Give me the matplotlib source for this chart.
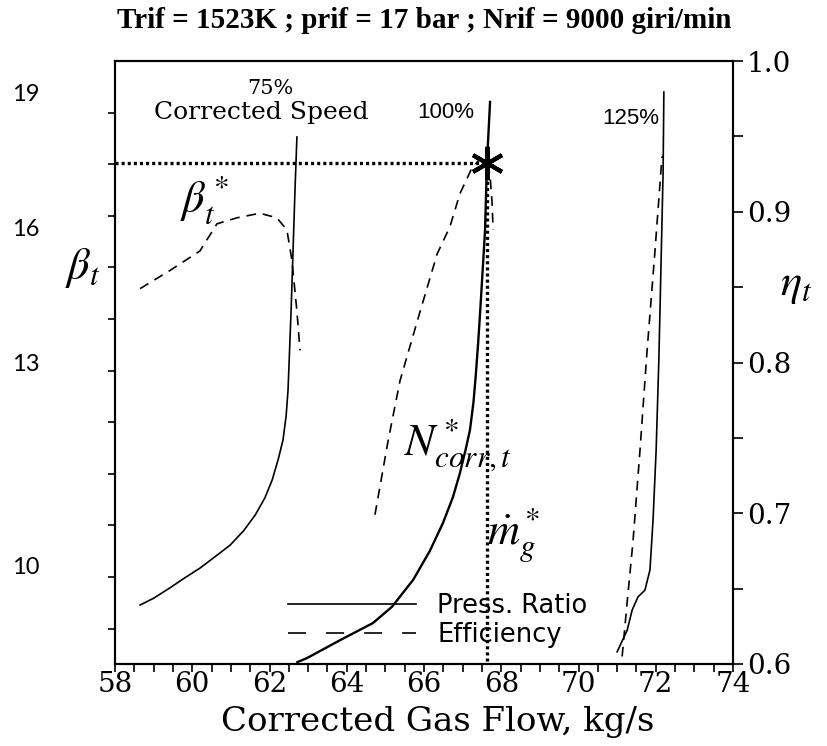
import matplotlib
matplotlib.use("Agg")
import matplotlib.pyplot as plt
import numpy as np
from matplotlib.lines import Line2D
from matplotlib.ticker import FixedLocator, MultipleLocator, NullFormatter

plt.rcParams['mathtext.fontset'] = 'stix'
plt.rcParams['lines.scale_dashes'] = False

# ---------------- data ----------------
# 75 % corrected speed
flow_75_pr = [58.65, 59.00, 59.42, 59.80, 60.20, 60.60, 60.98, 61.33, 61.63, 61.88, 62.07,
              62.23, 62.35, 62.43, 62.48, 62.53, 62.56, 62.61, 62.66, 62.71]
beta_75 = [7.60, 7.75, 7.98, 8.20, 8.42, 8.68, 8.93, 9.25, 9.60, 9.98, 10.38,
           10.85, 11.27, 11.80, 12.38, 13.49, 14.16, 15.49, 16.82, 18.00]
flow_75_eff = [58.65, 59.42, 60.20, 60.64, 61.16, 61.75, 62.19, 62.45, 62.58, 62.71, 62.79]
eta_75 = [0.849, 0.861, 0.874, 0.892, 0.896, 0.899, 0.896, 0.888, 0.868, 0.834, 0.808]

# 100 % corrected speed
flow_100_pr = [62.72, 62.97, 63.83, 64.68, 65.17, 65.72, 66.15, 66.49, 66.75, 66.93, 67.09,
               67.19, 67.28, 67.34, 67.40, 67.46, 67.53, 67.58, 67.63, 67.71]
beta_100 = [6.33, 6.42, 6.82, 7.20, 7.56, 8.16, 8.80, 9.42, 10.00, 10.53, 11.10,
            11.49, 12.10, 12.70, 13.40, 14.20, 15.20, 15.93, 17.42, 18.78]
flow_100_eff = [64.73, 65.07, 65.38, 65.64, 65.90, 66.34, 66.67, 66.93, 67.24, 67.45, 67.63, 67.71, 67.76, 67.79]
eta_100 = [0.699, 0.748, 0.788, 0.811, 0.834, 0.872, 0.890, 0.912, 0.929, 0.935, 0.934, 0.924, 0.907, 0.888]

# 125 % corrected speed
flow_125_pr = [71.00, 71.26, 71.39, 71.54, 71.72, 71.85, 71.93, 72.01, 72.08, 72.19, 72.21]
beta_125 = [6.56, 7.04, 7.49, 7.78, 7.93, 8.38, 9.49, 11.04, 13.04, 17.20, 19.00]
flow_125_eff = [71.13, 71.26, 71.41, 71.59, 71.77, 71.98, 72.16, 72.19]
eta_125 = [0.605, 0.641, 0.681, 0.741, 0.806, 0.874, 0.936, 0.937]

# design point
flow_star = 67.62
beta_star = 17.42

# axes
xlim = (58, 74)
beta_lim = (6.289, 19.689)
eta_lim = (0.6, 1.0)
beta_tick_values = [19, 16, 13, 8.467]
beta_tick_labels = ['19', '16', '13', '10']
x_major = [58, 60, 62, 64, 66, 68, 70, 72, 74]
eta_major = [0.6, 0.7, 0.8, 0.9, 1.0]

# ---------------- figure ----------------
W, H = 828, 746
fig = plt.figure(figsize=(W / 100, H / 100), dpi=100)
L, R, T, B = 115, 733, 61, 664
ax = fig.add_axes([L / W, 1 - B / H, (R - L) / W, (B - T) / H])
ax2 = ax.twinx()

ax.set_xlim(*xlim)
ax.set_ylim(*beta_lim)
ax2.set_ylim(*eta_lim)

for a in (ax, ax2):
    for s in a.spines.values():
        s.set_linewidth(1.5)

serif = 'DejaVu Serif'

# x axis
ax.xaxis.set_major_locator(FixedLocator(x_major))
ax.xaxis.set_minor_locator(MultipleLocator(0.5))
ax.tick_params(axis='x', which='both', direction='out', length=6, width=1.2,
               top=False, pad=-1)
ax.set_xticklabels([str(v) for v in x_major], fontfamily=serif, fontsize=20)
ax.set_xlabel('Corrected Gas Flow, kg/s', fontfamily=serif, fontsize=24.5)
ax.xaxis.label.set_va('baseline')
ax.xaxis.set_label_coords((438 - L) / (R - L), (B - 731) / (B - T))

# left (beta) axis
ax.yaxis.set_major_locator(FixedLocator(beta_tick_values))
ax.set_yticklabels(beta_tick_labels, fontfamily='Lato', fontsize=17)
step = (51.6 / 45.0)
ax.yaxis.set_minor_locator(FixedLocator(list(beta_lim[1] - step * np.arange(1, 12))))
ax.yaxis.set_minor_formatter(NullFormatter())
ax.tick_params(axis='y', which='major', length=0, pad=54)
ax.tick_params(axis='y', which='minor', direction='out', length=5, width=1.2)

# right (eta) axis
ax2.yaxis.set_major_locator(FixedLocator(eta_major))
ax2.yaxis.set_minor_locator(MultipleLocator(0.05))
ax2.set_yticklabels(['%.1f' % v for v in eta_major], fontfamily=serif, fontsize=20)
ax2.tick_params(axis='y', which='both', direction='out', length=7, width=1.2, pad=3)

# curves
lw = 1.2
dash = (7, 5)
ax.plot(flow_75_pr, beta_75, color='black', lw=lw)
ax2.plot(flow_75_eff, eta_75, color='black', lw=lw, dashes=dash)
ax.plot(flow_100_pr, beta_100, color='black', lw=1.7)
ax2.plot(flow_100_eff, eta_100, color='black', lw=lw, dashes=dash)
ax.plot(flow_125_pr, beta_125, color='black', lw=lw)
ax2.plot(flow_125_eff, eta_125, color='black', lw=lw, dashes=dash)

# design point guide lines
dot = (2.2, 2.2)
ax.plot([xlim[0], flow_star], [beta_star, beta_star], color='black', lw=2.4,
        dashes=dot, solid_capstyle='butt', dash_capstyle='butt')
ax.plot([flow_star, flow_star], [beta_star, beta_lim[0]], color='black', lw=2.4,
        dashes=dot, solid_capstyle='butt', dash_capstyle='butt')
ax.plot([flow_star], [beta_star], marker=(6, 2, 0), markersize=24,
        markeredgewidth=3.0, color='black', zorder=5)

# texts
def ft(px, py, s, **kw):
    fig.text(px / W, 1 - py / H, s, **kw)

ft(424, 21, 'Trif = 1523K ; prif = 17 bar ; Nrif = 9000 giri/min',
   ha='center', va='center', fontfamily='Liberation Serif', fontweight='bold', fontsize=21)
ft(270, 88, '75%', ha='center', va='center', fontfamily=serif, fontsize=15)
ft(261, 112, 'Corrected Speed', ha='center', va='center', fontfamily=serif, fontsize=18)
ft(446, 112, '100%', ha='center', va='center', fontfamily='Liberation Sans', fontsize=16)
ft(631, 118, '125%', ha='center', va='center', fontfamily='Liberation Sans', fontsize=16)
ft(83, 268, r'$\beta_t$', ha='center', va='center', fontsize=32)
ft(796, 285, r'$\eta_t$', ha='center', va='center', fontsize=32)
ft(205, 200, r'$\beta_t^*$', ha='center', va='center', fontsize=32)
ft(458, 445, r'$N^*_{corr,t}$', ha='center', va='center', fontsize=32)
ft(513, 535, r'$\dot{m}^*_g$', ha='center', va='center', fontsize=32)

# legend
h1 = Line2D([], [], color='black', lw=lw)
h2 = Line2D([], [], color='black', lw=lw, dashes=(13, 14.4))
leg = ax.legend([h1, h2], ['Press. Ratio', 'Efficiency'], loc='upper left',
                bbox_to_anchor=(288 / W, 1 - 593 / H), bbox_transform=fig.transFigure,
                frameon=False, prop={'family': 'DejaVu Sans', 'size': 18.5},
                handlelength=5.0, handletextpad=0.8, labelspacing=0.12, borderpad=0,
                borderaxespad=0)

fig.savefig('out.png', dpi=100)
